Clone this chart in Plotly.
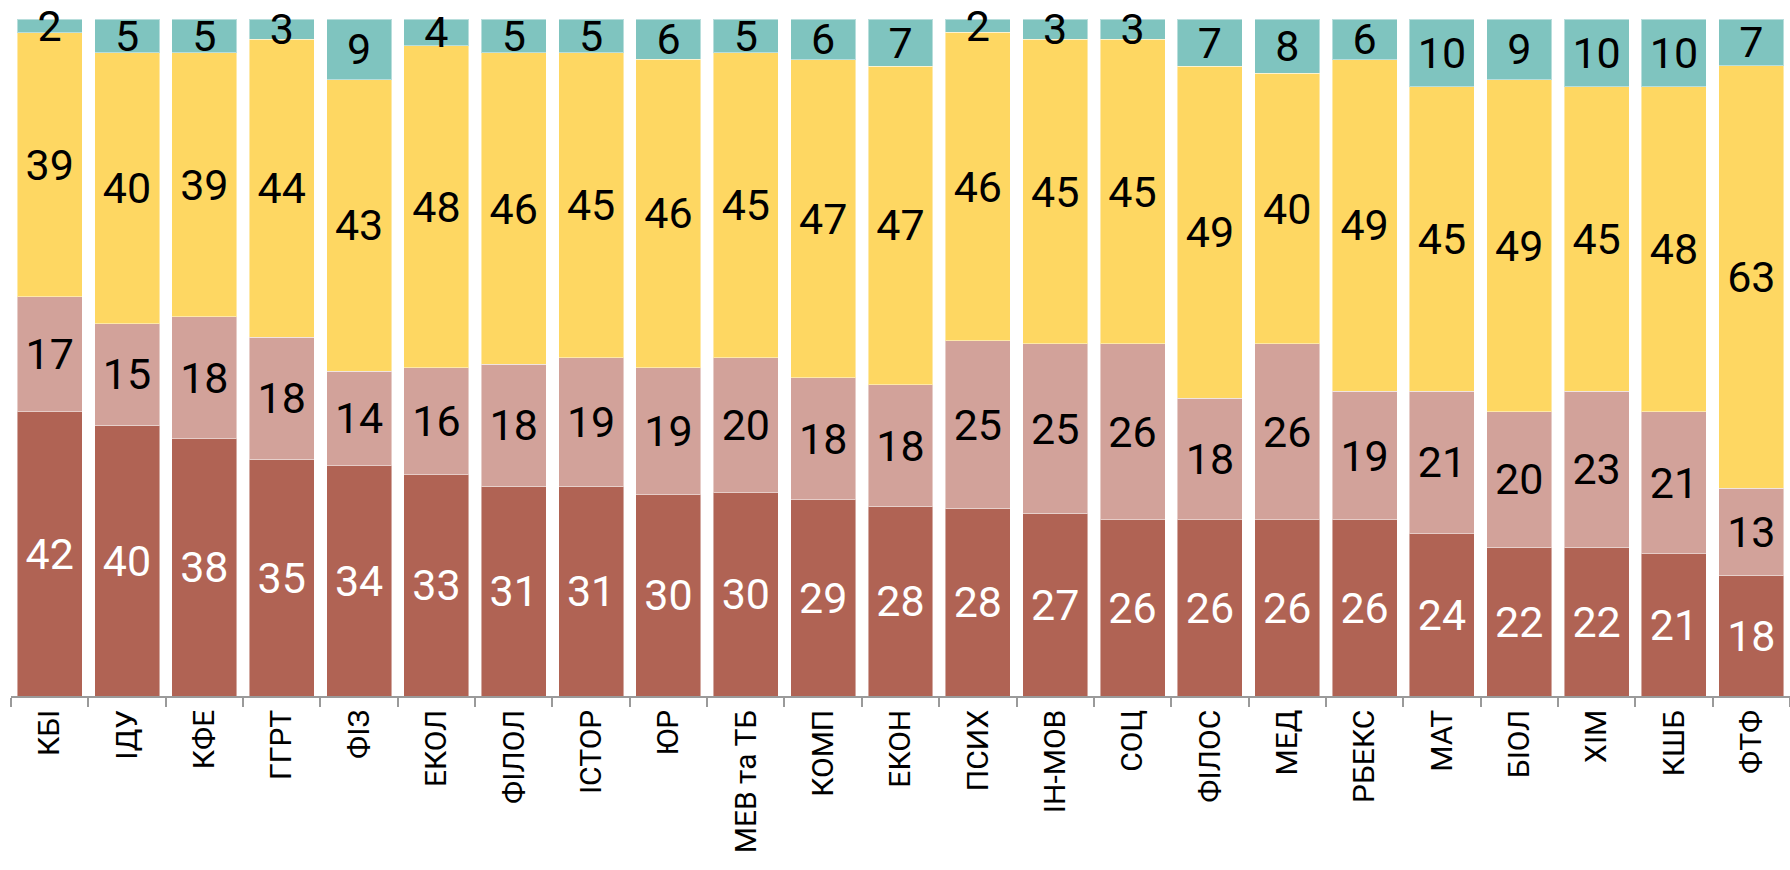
import plotly.graph_objects as go

# Категорії (факультети / інститути)
faculties = [
    "КБІ", "ІДУ", "КФЕ", "ГГРТ", "ФІЗ", "ЕКОЛ", "ФІЛОЛ", "ІСТОР", "ЮР",
    "МЕВ та ТБ", "КОМП", "ЕКОН", "ПСИХ", "ІН-МОВ", "СОЦ", "ФІЛОС", "МЕД",
    "РБЕКС", "МАТ", "БІОЛ", "ХІМ", "КШБ", "ФТФ",
]

# Частки, % (знизу вгору)
level_1 = [42, 40, 38, 35, 34, 33, 31, 31, 30, 30, 29, 28, 28, 27, 26, 26, 26, 26, 24, 22, 22, 21, 18]
level_2 = [17, 15, 18, 18, 14, 16, 18, 19, 19, 20, 18, 18, 25, 25, 26, 18, 26, 19, 21, 20, 23, 21, 13]
level_3 = [39, 40, 39, 44, 43, 48, 46, 45, 46, 45, 47, 47, 46, 45, 45, 49, 40, 49, 45, 49, 45, 48, 63]
level_4 = [2, 5, 5, 3, 9, 4, 5, 5, 6, 5, 6, 7, 2, 3, 3, 7, 8, 6, 10, 9, 10, 10, 7]

series = [
    (level_1, "#b06354", "white"),
    (level_2, "#d2a29a", "black"),
    (level_3, "#fed762", "black"),
    (level_4, "#7fc4bf", "black"),
]

fig = go.Figure()
for values, color, text_color in series:
    fig.add_trace(
        go.Bar(
            x=faculties,
            y=values,
            text=values,
            texttemplate="%{text}",
            textposition="inside",
            insidetextanchor="middle",
            textangle=0,
            constraintext="none",
            insidetextfont=dict(color=text_color, size=43, family="Roboto"),
            marker=dict(color=color, line=dict(color="rgba(255,255,255,0.45)", width=1)),
            cliponaxis=False,
            showlegend=False,
        )
    )

fig.update_layout(
    width=1790,
    height=870,
    barmode="stack",
    barnorm="percent",
    bargap=0.16,
    plot_bgcolor="white",
    paper_bgcolor="white",
    font=dict(family="Roboto", size=30, color="black"),
    margin=dict(l=11, r=0, t=19, b=174),
    xaxis=dict(
        tickangle=-90,
        tickson="boundaries",
        ticks="outside",
        ticklen=9,
        tickwidth=1.5,
        tickcolor="#9a9a9a",
        showline=True,
        linecolor="#9a9a9a",
        linewidth=1.5,
        showgrid=False,
        tickfont=dict(size=30, color="black"),
    ),
    yaxis=dict(
        range=[0, 100],
        visible=False,
        showgrid=False,
    ),
)

# прибираємо стандартний відступ body, щоб графік займав усе вікно
fig.write_html(
    "out.html",
    config={"displayModeBar": False},
    post_script="document.body.style.margin='0';document.body.style.overflow='hidden';",
)
